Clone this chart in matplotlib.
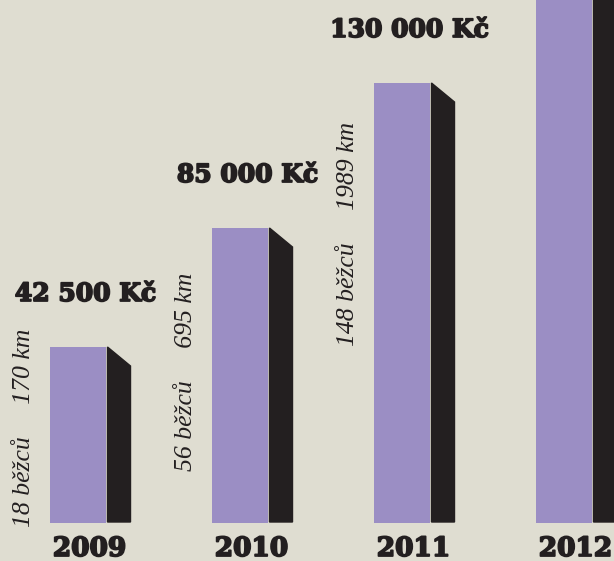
import matplotlib.pyplot as plt
from matplotlib.patches import Polygon
import matplotlib.patheffects as pe

years = ["2009", "2010", "2011", "2012"]
money = ["42 500 Kč", "85 000 Kč", "130 000 Kč", None]
runners = ["18 běžců", "56 běžců", "148 běžců", None]
distance = ["170 km", "695 km", "1989 km", None]
bar_height = [176, 295, 440, 600]   # visual heights

bg = "#dfddd1"
purple = "#9b8ec4"
dark = "#231f20"

fig = plt.figure(figsize=(6.14, 5.61), dpi=100, facecolor=bg)
ax = fig.add_axes([0, 0, 1, 1])
ax.set_facecolor(bg)
ax.set_xlim(0, 614)
ax.set_ylim(-38, 523)
ax.axis("off")

step = 162
width = 56
side_w = 23
left = [50 + i * step for i in range(len(years))]

ax.bar(left, bar_height, width=width, align="edge", color=purple, zorder=2)

# centre of the vertical notes, per bar
note_y = [95, 151, 289, None]
heavy = [pe.withStroke(linewidth=1.3, foreground=dark)]

for i, h in enumerate(bar_height):
    x0 = left[i] + width + 1.5
    side = Polygon([(x0, 1), (x0, h), (x0 + side_w, h - 19), (x0 + side_w, 1)],
                   closed=True, color=dark, zorder=2)
    ax.add_patch(side)
    cx = left[i] + (width + side_w) / 2
    ax.text(cx, -33, years[i], ha="center", va="baseline", fontsize=19,
            fontweight="bold", family="DejaVu Serif", color=dark,
            path_effects=heavy)
    if money[i]:
        ax.text(cx - 4, h + 46, money[i], ha="center", va="baseline", fontsize=18,
                fontweight="bold", family="DejaVu Serif", color=dark,
                path_effects=heavy)
    if runners[i]:
        ax.text(left[i] - 26, note_y[i], runners[i] + "     " + distance[i],
                rotation=90, ha="center", va="center", fontsize=18.5,
                style="italic", family="Liberation Serif", color=dark)

fig.savefig("out.png", dpi=100, facecolor=bg)
